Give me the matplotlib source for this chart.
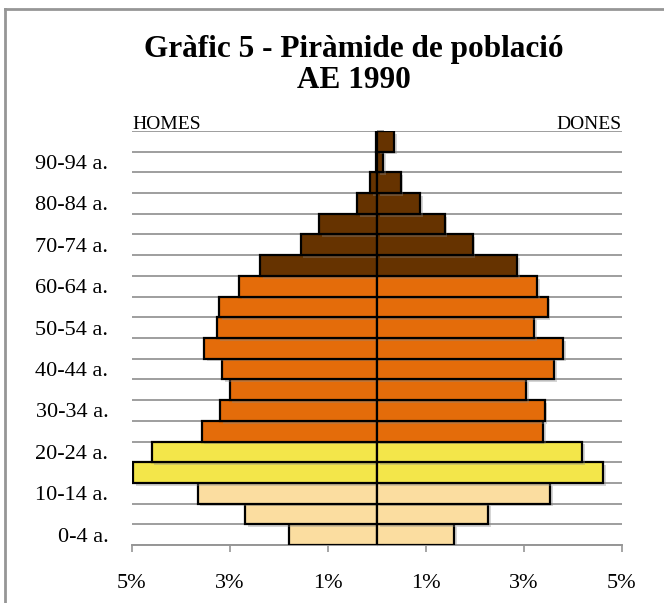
"""Piràmide de població AE 1990 (gràfic 5)."""

import matplotlib

matplotlib.use("Agg")
import matplotlib.patheffects as pe
import matplotlib.pyplot as plt
import numpy as np

ages = ["0-4 a.", "5-9 a.", "10-14 a.", "15-19 a.", "20-24 a.", "25-29 a.",
        "30-34 a.", "35-39 a.", "40-44 a.", "45-49 a.", "50-54 a.", "55-59 a.",
        "60-64 a.", "65-69 a.", "70-74 a.", "75-79 a.", "80-84 a.", "85-89 a.",
        "90-94 a.", "95-99 a."]
homes = [1.80, 2.69, 3.66, 4.97, 4.60, 3.58, 3.20, 3.01, 3.16, 3.53,
         3.27, 3.23, 2.82, 2.38, 1.56, 1.18, 0.41, 0.14, 0.02, 0.03]
dones = [1.58, 2.27, 3.54, 4.61, 4.18, 3.39, 3.42, 3.05, 3.61, 3.80,
         3.21, 3.48, 3.27, 2.86, 1.95, 1.38, 0.88, 0.48, 0.13, 0.35]
x_ticks = [-5, -3, -1, 1, 3, 5]
x_labels = ["5%", "3%", "1%", "1%", "3%", "5%"]

# colour by age band: children, young, adults, elderly
band_colors = ["#FBDDA0"] * 3 + ["#F3E64A"] * 2 + ["#E46C0A"] * 8 + ["#663300"] * 7

SERIF = ["Liberation Serif", "DejaVu Serif"]
GRID = "#969696"

fig = plt.figure(figsize=(6.64, 6.03), dpi=100)
ax = fig.add_axes([132 / 664, 58 / 603, 490 / 664, 414 / 603])

y = np.arange(len(ages))
shadow = [pe.SimplePatchShadow(offset=(2, -2), alpha=0.35, shadow_rgbFace="#888888"), pe.Normal()]
ax.barh(y, -np.array(homes), height=1.0, color=band_colors, edgecolor="black",
        linewidth=1.6, zorder=3, path_effects=shadow)
ax.barh(y, dones, height=1.0, color=band_colors, edgecolor="black",
        linewidth=1.6, zorder=3, path_effects=shadow)

ax.set_xlim(-5, 5)
ax.set_ylim(-0.5, len(ages) - 0.5)

# horizontal gridlines on the category boundaries
ax.set_yticks(np.arange(-0.5, len(ages), 1.0), minor=True)
ax.grid(axis="y", which="minor", color=GRID, linewidth=1.3, zorder=0)
ax.set_yticks(y[::2])
ax.set_yticklabels(ages[::2], fontsize=16, family=SERIF)
ax.tick_params(axis="y", which="both", length=0, pad=17)

ax.set_xticks(x_ticks)
ax.set_xticklabels(x_labels, fontsize=16, family=SERIF)
ax.tick_params(axis="x", length=5, width=1.2, color=GRID, pad=16)

for side in ["left", "right", "top"]:
    ax.spines[side].set_visible(False)
ax.spines["bottom"].set_color(GRID)
ax.spines["bottom"].set_linewidth(1.4)

# central vertical axis with small ticks at the boundaries
center = ax.secondary_yaxis(0.5)
center.set_yticks(np.arange(-0.5, len(ages), 1.0))
center.set_yticklabels([])
center.tick_params(length=5, width=1.2, color=GRID, direction="out")
center.spines["left"].set_color(GRID)
center.spines["left"].set_linewidth(1.6)
center.spines["left"].set_zorder(5)

ax.text(0.0, 0.996, "HOMES", transform=ax.transAxes, ha="left", va="bottom",
        fontsize=14, family=SERIF)
ax.text(1.0, 0.996, "DONES", transform=ax.transAxes, ha="right", va="bottom",
        fontsize=14, family=SERIF)

fig.text(354 / 664, 1 - 49 / 603, "Gràfic 5 - Piràmide de població",
         ha="center", va="center", fontsize=22.5, fontweight="bold", family=SERIF)
fig.text(354 / 664, 1 - 81 / 603, "AE 1990",
         ha="center", va="center", fontsize=22.5, fontweight="bold", family=SERIF)

# chart frame (cut off on the right and bottom)
fig.add_artist(plt.Line2D([5 / 664, 1.0], [1 - 9 / 603, 1 - 9 / 603],
                          color=GRID, linewidth=2, transform=fig.transFigure))
fig.add_artist(plt.Line2D([5 / 664, 5 / 664], [0.0, 1 - 9 / 603],
                          color=GRID, linewidth=2, transform=fig.transFigure))

fig.savefig("out.png", dpi=100)
